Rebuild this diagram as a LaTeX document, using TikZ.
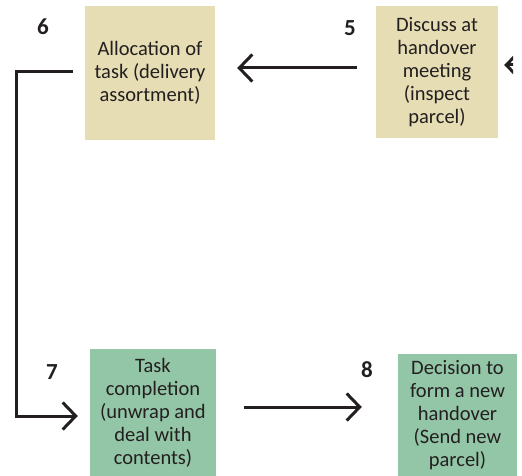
\documentclass[tikz,border=0pt]{standalone}
\usepackage{fontspec}
\setmainfont{Carlito}
\usetikzlibrary{arrows.meta}
\definecolor{tanbox}{RGB}{230,221,180}
\definecolor{greenbox}{RGB}{147,198,166}
\definecolor{txt}{RGB}{35,31,32}
\tikzset{
  boxstyle/.style={inner sep=0pt, align=center, text=txt, font=\fontsize{20.5}{23}\selectfont},
  tanstyle/.style={boxstyle, fill=tanbox},
  greenstyle/.style={boxstyle, fill=greenbox},
  numstyle/.style={inner sep=0pt, text=txt, font=\fontsize{23}{24}\selectfont\bfseries},
  arr/.style={draw=txt, line width=3pt, -{Straight Barb[length=13pt,width=27pt]}},
  elbow/.style={arr, line join=miter}
}
\begin{document}
\begin{tikzpicture}[x=1pt,y=-1pt]
\useasboundingbox (0,0) rectangle (522,476);
\node[tanstyle, minimum width=130pt, minimum height=134pt] (n6) at (150,73) {Allocation of\\task (delivery\\assortment)};
\node[tanstyle, minimum width=122pt, minimum height=132pt] (n5) at (437,72) {Discuss at\\handover\\meeting\\(inspect\\parcel)};
\node[greenstyle, minimum width=126pt, minimum height=127pt] (n7) at (153,412.5) {Task\\completion\\(unwrap and\\deal with\\contents)};
\node[greenstyle, minimum width=119pt, minimum height=122pt] (n8) at (457.5,415) {Decision to\\form a new\\handover\\(Send new\\parcel)};
\node[numstyle] (l6) at (43,27) {6};
\node[numstyle] (l5) at (350,28) {5};
\node[numstyle] (l7) at (52,372) {7};
\node[numstyle] (l8) at (367,370) {8};
\draw[arr] ([xshift=-19pt,yshift=4pt]n5.west) -- ([xshift=22pt,yshift=5pt]n6.east);
\draw[elbow] ([xshift=-12pt,yshift=1pt]n6.west) -- ++(-56,0) |- ([xshift=-12pt,yshift=-3.5pt]n7.west);
\draw[arr] ([xshift=28pt,yshift=5.5pt]n7.east) -- ([xshift=-36pt,yshift=8pt]n8.west);
\coordinate (rin) at (560,65);
\begin{scope}
\clip (498,0) rectangle (513,476);
\draw[arr] (rin) -- ([xshift=6pt,yshift=7pt]n5.east);
\end{scope}
\end{tikzpicture}
\end{document}
